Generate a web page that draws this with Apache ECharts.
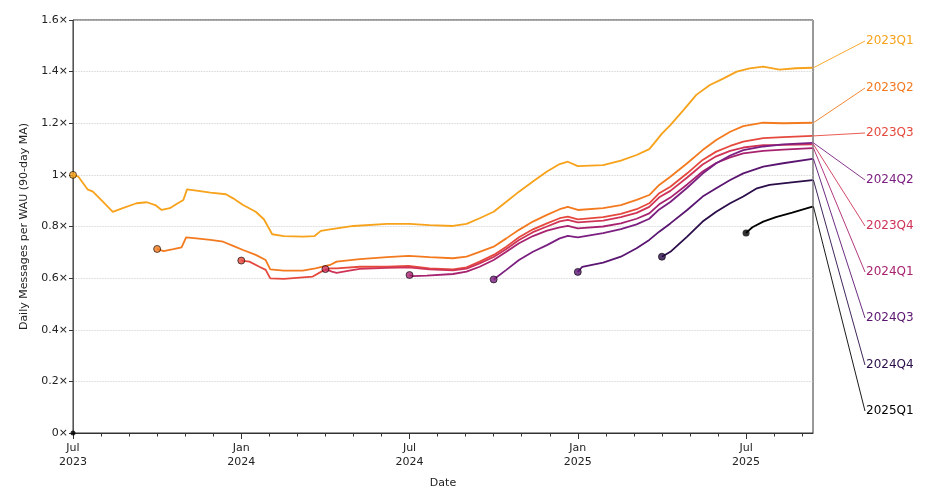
<!DOCTYPE html>
<html>
<head>
<meta charset="utf-8">
<script src="https://cdn.jsdelivr.net/npm/echarts@6/dist/echarts.min.js"></script>
<style>
html,body{margin:0;padding:0;background:#fff;}
#chart{width:936px;height:502px;}
</style>
</head>
<body>
<div id="chart"></div>
<script>
// ---- data ----
const seriesNames = ['2023Q1','2023Q2','2023Q3','2023Q4','2024Q1','2024Q2','2024Q3','2024Q4','2025Q1'];
const xTickLabels = ['Jul\n2023','Jan\n2024','Jul\n2024','Jan\n2025','Jul\n2025'];
const xTickMonths = [0, 6, 12, 18, 24];

const c2023Q1 = [
 ['2023-07-01',1.000],['2023-07-07',0.993],['2023-07-17',0.944],['2023-07-23',0.935],['2023-08-03',0.896],
 ['2023-08-14',0.857],['2023-08-25',0.871],['2023-09-09',0.890],['2023-09-20',0.894],['2023-09-29',0.883],
 ['2023-10-06',0.864],['2023-10-15',0.871],['2023-10-22',0.886],['2023-10-30',0.903],['2023-11-03',0.944],
 ['2023-11-13',0.939],['2023-11-28',0.931],['2023-12-15',0.925],['2023-12-23',0.909],['2024-01-03',0.883],
 ['2024-01-17',0.857],['2024-01-26',0.828],['2024-02-04',0.770],['2024-02-16',0.763],['2024-03-07',0.761],
 ['2024-03-20',0.763],['2024-03-27',0.783],['2024-04-06',0.789],['2024-05-01',0.802],['2024-06-07',0.810],
 ['2024-07-01',0.810],['2024-07-23',0.805],['2024-08-18',0.802],['2024-09-02',0.810],['2024-09-16',0.832],
 ['2024-10-01',0.857],['2024-10-15',0.896],['2024-10-29',0.935],['2024-11-13',0.974],['2024-11-28',1.013],
 ['2024-12-12',1.042],['2024-12-21',1.051],['2025-01-01',1.034],['2025-01-29',1.038],['2025-02-16',1.055],
 ['2025-03-04',1.077],['2025-03-18',1.100],['2025-03-24',1.125],['2025-04-01',1.160],['2025-04-10',1.193],
 ['2025-04-24',1.251],['2025-05-08',1.310],['2025-05-23',1.348],['2025-06-07',1.374],['2025-06-21',1.400],
 ['2025-07-05',1.413],['2025-07-20',1.419],['2025-08-07',1.408],['2025-08-25',1.413],['2025-09-12',1.415]
];
const c2023Q2 = [
 ['2023-10-01',0.713],['2023-10-08',0.705],['2023-10-19',0.712],['2023-10-28',0.719],['2023-11-02',0.758],
 ['2023-11-13',0.754],['2023-11-28',0.748],['2023-12-12',0.741],['2023-12-23',0.725],['2024-01-03',0.709],
 ['2024-01-17',0.690],['2024-01-28',0.670],['2024-02-02',0.634],['2024-02-16',0.629],['2024-03-07',0.629],
 ['2024-03-21',0.638],['2024-04-06',0.651],['2024-04-13',0.664],['2024-05-08',0.674],['2024-06-07',0.681],
 ['2024-06-30',0.686],['2024-07-23',0.681],['2024-08-18',0.677],['2024-09-02',0.683],['2024-09-16',0.702],
 ['2024-10-01',0.722],['2024-10-15',0.754],['2024-10-29',0.787],['2024-11-13',0.819],['2024-11-28',0.845],
 ['2024-12-12',0.867],['2024-12-21',0.876],['2025-01-01',0.864],['2025-01-29',0.871],['2025-02-16',0.883],
 ['2025-03-04',0.903],['2025-03-18',0.922],['2025-03-29',0.961],['2025-04-10',0.993],['2025-04-28',1.045],
 ['2025-05-15',1.096],['2025-05-30',1.135],['2025-06-14',1.167],['2025-06-28',1.189],['2025-07-20',1.202],
 ['2025-08-11',1.200],['2025-09-12',1.202]
];
const c2023Q3 = [
 ['2024-01-01',0.668],['2024-01-10',0.664],['2024-01-21',0.644],['2024-01-28',0.632],['2024-02-02',0.599],
 ['2024-02-16',0.597],['2024-03-07',0.603],['2024-03-18',0.606],['2024-03-29',0.628],['2024-04-06',0.638],
 ['2024-04-13',0.638],['2024-05-08',0.644],['2024-06-07',0.644],['2024-06-30',0.647],['2024-07-23',0.638],
 ['2024-08-18',0.634],['2024-09-02',0.642],['2024-09-16',0.664],['2024-10-01',0.690],['2024-10-15',0.722],
 ['2024-10-29',0.758],['2024-11-13',0.789],['2024-11-28',0.812],['2024-12-12',0.832],['2024-12-21',0.838],
 ['2025-01-01',0.828],['2025-01-29',0.836],['2025-02-16',0.849],['2025-03-04',0.867],['2025-03-18',0.890],
 ['2025-03-29',0.929],['2025-04-10',0.954],['2025-04-28',1.006],['2025-05-15',1.058],['2025-05-30',1.090],
 ['2025-06-14',1.112],['2025-06-28',1.129],['2025-07-20',1.142],['2025-08-11',1.146],['2025-09-12',1.151]
];
const c2023Q4 = [
 ['2024-04-01',0.635],['2024-04-08',0.625],['2024-04-13',0.620],['2024-04-25',0.628],['2024-05-08',0.636],
 ['2024-06-07',0.640],['2024-06-30',0.642],['2024-07-23',0.634],['2024-08-18',0.630],['2024-09-02',0.637],
 ['2024-09-16',0.657],['2024-10-01',0.682],['2024-10-15',0.713],['2024-10-29',0.748],['2024-11-13',0.778],
 ['2024-11-28',0.800],['2024-12-12',0.820],['2024-12-21',0.826],['2025-01-01',0.816],['2025-01-29',0.823],
 ['2025-02-16',0.836],['2025-03-04',0.853],['2025-03-18',0.876],['2025-03-29',0.913],['2025-04-10',0.938],
 ['2025-04-28',0.990],['2025-05-15',1.040],['2025-05-30',1.072],['2025-06-14',1.093],['2025-06-28',1.106],
 ['2025-07-20',1.115],['2025-08-11',1.116],['2025-09-12',1.118]
];
const c2024Q1 = [
 ['2024-07-01',0.612],['2024-07-05',0.608],['2024-07-20',0.610],['2024-08-18',0.616],['2024-09-02',0.625],
 ['2024-09-16',0.644],['2024-10-01',0.670],['2024-10-15',0.702],['2024-10-29',0.735],['2024-11-13',0.763],
 ['2024-11-28',0.784],['2024-12-12',0.797],['2024-12-21',0.802],['2025-01-01',0.793],['2025-01-29',0.800],
 ['2025-02-16',0.812],['2025-03-04',0.830],['2025-03-18',0.851],['2025-03-29',0.886],['2025-04-10',0.912],
 ['2025-04-28',0.963],['2025-05-15',1.013],['2025-05-30',1.046],['2025-06-14',1.068],['2025-06-28',1.083],
 ['2025-07-20',1.093],['2025-08-11',1.098],['2025-09-12',1.104]
];
const c2024Q2 = [
 ['2024-10-01',0.595],['2024-10-15',0.632],['2024-10-29',0.670],['2024-11-13',0.702],['2024-11-28',0.728],
 ['2024-12-12',0.754],['2024-12-21',0.764],['2025-01-01',0.758],['2025-01-29',0.774],['2025-02-16',0.790],
 ['2025-03-04',0.808],['2025-03-18',0.830],['2025-03-29',0.866],['2025-04-10',0.895],['2025-04-28',0.950],
 ['2025-05-15',1.005],['2025-05-30',1.045],['2025-06-14',1.075],['2025-06-28',1.096],['2025-07-20',1.110],
 ['2025-08-11',1.118],['2025-09-12',1.124]
];
const c2024Q3 = [
 ['2025-01-01',0.624],['2025-01-06',0.644],['2025-01-29',0.660],['2025-02-16',0.683],['2025-03-04',0.716],
 ['2025-03-18',0.748],['2025-03-29',0.780],['2025-04-10',0.812],['2025-04-28',0.864],['2025-05-15',0.916],
 ['2025-05-30',0.948],['2025-06-14',0.980],['2025-06-28',1.006],['2025-07-20',1.032],['2025-08-11',1.045],
 ['2025-09-12',1.062]
];
const c2024Q4 = [
 ['2025-04-01',0.683],['2025-04-10',0.702],['2025-04-28',0.761],['2025-05-15',0.819],['2025-05-30',0.857],
 ['2025-06-14',0.890],['2025-06-28',0.916],['2025-07-13',0.948],['2025-07-27',0.961],['2025-08-18',0.970],
 ['2025-09-12',0.980]
];
const c2025Q1 = [
 ['2025-07-01',0.775],['2025-07-08',0.797],['2025-07-20',0.819],['2025-08-03',0.836],['2025-08-21',0.854],
 ['2025-09-12',0.877]
];
const originPoint = ['2023-07-01', 0];

const cohortData = [c2023Q1,c2023Q2,c2023Q3,c2023Q4,c2024Q1,c2024Q2,c2024Q3,c2024Q4,c2025Q1];
const colors = ['#f7a21b','#f37a1f','#e5493d','#cf3458','#a8236f','#7b1f80','#5a1571','#2a0d49','#000000'];
// vertical pixel slots of the end labels (layout)
const labelSlotsY = [41, 88, 133, 180, 226, 272, 318, 365, 411];
const labelOrder = ['2023Q1','2023Q2','2023Q3','2024Q2','2023Q4','2024Q1','2024Q3','2024Q4','2025Q1'];

// ---- helpers ----
function toMonths(d){
  const [y,m,day] = d.split('-').map(Number);
  const dim = new Date(y, m, 0).getDate();
  return (y-2023)*12 + (m-7) + (day-1)/dim;
}
const xMax = toMonths('2025-09-12') + 0.02;
const FONT = 'DejaVu Sans';

const chart = echarts.init(document.getElementById('chart'), null, {renderer:'canvas'});

const series = [];
cohortData.forEach((arr, i) => {
  series.push({
    name: seriesNames[i], type: 'line', showSymbol: false, smooth: false,
    data: arr.map(p => [toMonths(p[0]), p[1]]),
    lineStyle: {color: colors[i], width: 1.8},
    itemStyle: {color: colors[i]},
    z: 2 + i, silent: true
  });
});
cohortData.forEach((arr, i) => {
  series.push({
    type: 'scatter', symbol: 'circle', symbolSize: 7,
    data: [[toMonths(arr[0][0]), arr[0][1]]],
    itemStyle: {color: colors[i], borderColor: '#000', borderWidth: i === 8 ? 0 : 0.8},
    z: 20, silent: true
  });
});
series.push({
  type: 'scatter', symbol: 'circle', symbolSize: 5,
  data: [[toMonths(originPoint[0]), originPoint[1]]],
  itemStyle: {color: '#000'}, z: 21, silent: true
});

chart.setOption({
  animation: false,
  backgroundColor: '#fff',
  grid: {left: 73, right: 123, top: 20, bottom: 69, show: true, borderColor: '#333', borderWidth: 1, containLabel: false},
  xAxis: {
    type: 'value', min: 0, max: xMax, interval: 6,
    name: 'Date', nameLocation: 'middle', nameGap: 45,
    nameTextStyle: {fontFamily: FONT, fontSize: 11, color: '#222'},
    axisLine: {show: true, lineStyle: {color: '#333', width: 1}},
    axisTick: {show: true, length: 6, customValues: xTickMonths, lineStyle: {color: '#333'}},
    minorTick: {show: true, splitNumber: 6, length: 3.5, lineStyle: {color: '#333'}},
    splitLine: {show: false},
    axisLabel: {
      fontFamily: FONT, fontSize: 11, color: '#222', lineHeight: 14, margin: 8,
      formatter: v => {
        const k = Math.round(v);
        if (Math.abs(v - k) > 1e-6 || k % 6 !== 0) return '';
        return xTickLabels[k/6] || '';
      }
    }
  },
  yAxis: {
    type: 'value', min: 0, max: 1.6, interval: 0.2,
    name: 'Daily Messages per WAU (90-day MA)', nameLocation: 'middle', nameGap: 43,
    nameTextStyle: {fontFamily: FONT, fontSize: 11, color: '#222'},
    axisLine: {show: true, lineStyle: {color: '#555', width: 1}},
    axisTick: {show: true, length: 4, lineStyle: {color: '#333'}},
    splitLine: {show: true, lineStyle: {color: '#c8c8c8', type: 'dotted', width: 0.8}},
    axisLabel: {
      fontFamily: FONT, fontSize: 11, color: '#222', margin: 5,
      formatter: v => (Math.round(v*10)/10).toString() + '\u00d7'
    }
  },
  series: series
});

// end labels with leader lines
const graphics = [];
labelOrder.forEach((nm, slot) => {
  const i = seriesNames.indexOf(nm);
  const arr = cohortData[i];
  const last = arr[arr.length - 1];
  const p = chart.convertToPixel({gridIndex: 0}, [toMonths(last[0]), last[1]]);
  const ly = labelSlotsY[slot];
  const tx = 865;
  graphics.push({
    type: 'line', silent: true,
    shape: {x1: p[0] + 1, y1: p[1], x2: tx, y2: ly},
    style: {stroke: colors[i], lineWidth: 0.9}
  });
  graphics.push({
    type: 'text', silent: true, x: tx + 1, y: ly,
    style: {text: nm, fill: colors[i], font: '12px "DejaVu Sans"', textAlign: 'left', textVerticalAlign: 'middle'}
  });
});
chart.setOption({graphic: graphics});
</script>
</body>
</html>
